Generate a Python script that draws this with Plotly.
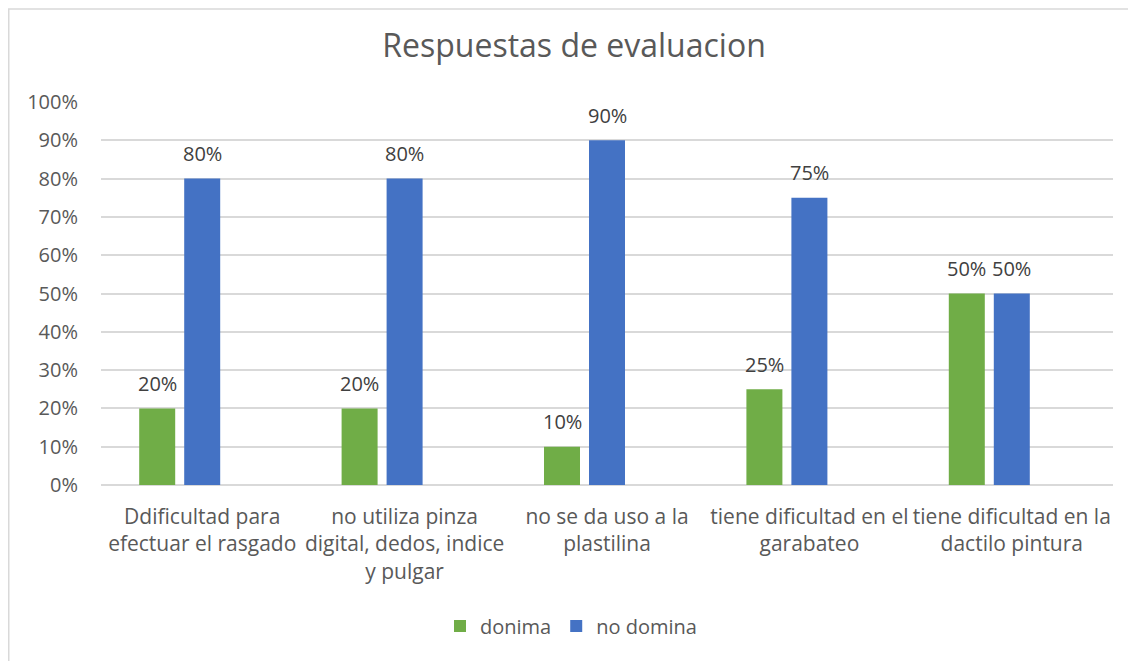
import plotly.graph_objects as go

categories = [
    "Ddificultad para<br>efectuar el rasgado",
    "no utiliza pinza<br>digital, dedos, indice<br>y pulgar",
    "no se da uso a la<br>plastilina",
    "tiene dificultad en el<br>garabateo",
    "tiene dificultad en la<br>dactilo pintura",
]
donima = [0.20, 0.20, 0.10, 0.25, 0.50]
no_domina = [0.80, 0.80, 0.90, 0.75, 0.50]
tick_vals = [i / 10 for i in range(11)]
tick_text = [f"{i*10}%" for i in range(11)]

FONT = "Open Sans, sans-serif"
fs = 20
GREEN = "#70AD47"
BLUE = "#4472C4"

# page has an 8px body margin; figure coordinates = screen - 8
OFF = 8
W, H = 1120, 653
L = 101 - OFF
R = W - (1113 - OFF)
T = 101.7 - OFF
B = H - (484.7 - OFF)
pw = W - L - R
ph = H - T - B

# bar geometry (Excel-like: cluster of three slots, third slot empty)
cat_px = pw / len(categories)
SLOT_PX = 45.0
BAR_PX = 36.0
bar_w = BAR_PX / cat_px
green_off = (-SLOT_PX - BAR_PX / 2) / cat_px
blue_off = (-BAR_PX / 2) / cat_px

fig = go.Figure()
fig.add_trace(go.Bar(x=categories, y=donima, name="donima",
                     width=bar_w, offset=green_off,
                     marker=dict(color=GREEN, line=dict(width=0))))
fig.add_trace(go.Bar(x=categories, y=no_domina, name="no domina",
                     width=bar_w, offset=blue_off,
                     marker=dict(color=BLUE, line=dict(width=0))))

annotations = []
for vals, shift in ((donima, -SLOT_PX), (no_domina, 0)):
    for c, v in zip(categories, vals):
        annotations.append(dict(
            x=c, y=v, xref="x", yref="y", text=f"{v*100:.0f}%",
            showarrow=False, xshift=shift, yshift=25, yanchor="middle",
            font=dict(family=FONT, size=fs, color="#404040")))

fig.update_layout(
    width=W, height=H,
    margin=dict(l=L, r=R, t=T, b=B, autoexpand=False),
    paper_bgcolor="white", plot_bgcolor="white",
    font=dict(family=FONT, size=fs, color="#595959"),
    title=dict(text="Respuestas de evaluacion", xref="container",
               x=(574 - OFF) / W, xanchor="center",
               y=1 - (46 - OFF) / H, yanchor="middle",
               font=dict(family=FONT, size=32, color="#595959")),
    barmode="overlay",
    showlegend=True,
    legend=dict(orientation="h", xref="container", yref="container",
                x=(571 - OFF) / W, xanchor="center",
                y=1 - (626 - OFF) / H, yanchor="middle",
                font=dict(family=FONT, size=fs, color="#595959"),
                itemwidth=30),
    xaxis=dict(showgrid=False, showline=False, ticks="", tickangle=0,
               tickfont=dict(family=FONT, size=21, color="#595959"),
               ticklabelstandoff=17),
    yaxis=dict(range=[0, 1], tickvals=tick_vals, ticktext=tick_text,
               showgrid=True, gridcolor="#D9D9D9", gridwidth=1.5,
               zeroline=True, zerolinecolor="#D9D9D9", zerolinewidth=1.5,
               showline=False, ticks="", ticklabelstandoff=22,
               tickfont=dict(family=FONT, size=fs, color="#595959")),
    annotations=annotations,
    shapes=[dict(type="rect", xref="paper", yref="paper",
                 x0=(0.75 - L) / pw, x1=(W + 10 - L) / pw,
                 y0=(H - B - (H + 10)) / ph, y1=(H - B - 0.75) / ph,
                 line=dict(color="#D9D9D9", width=1.5),
                 fillcolor="rgba(0,0,0,0)", layer="below")],
)

fig.write_html("out.html")
